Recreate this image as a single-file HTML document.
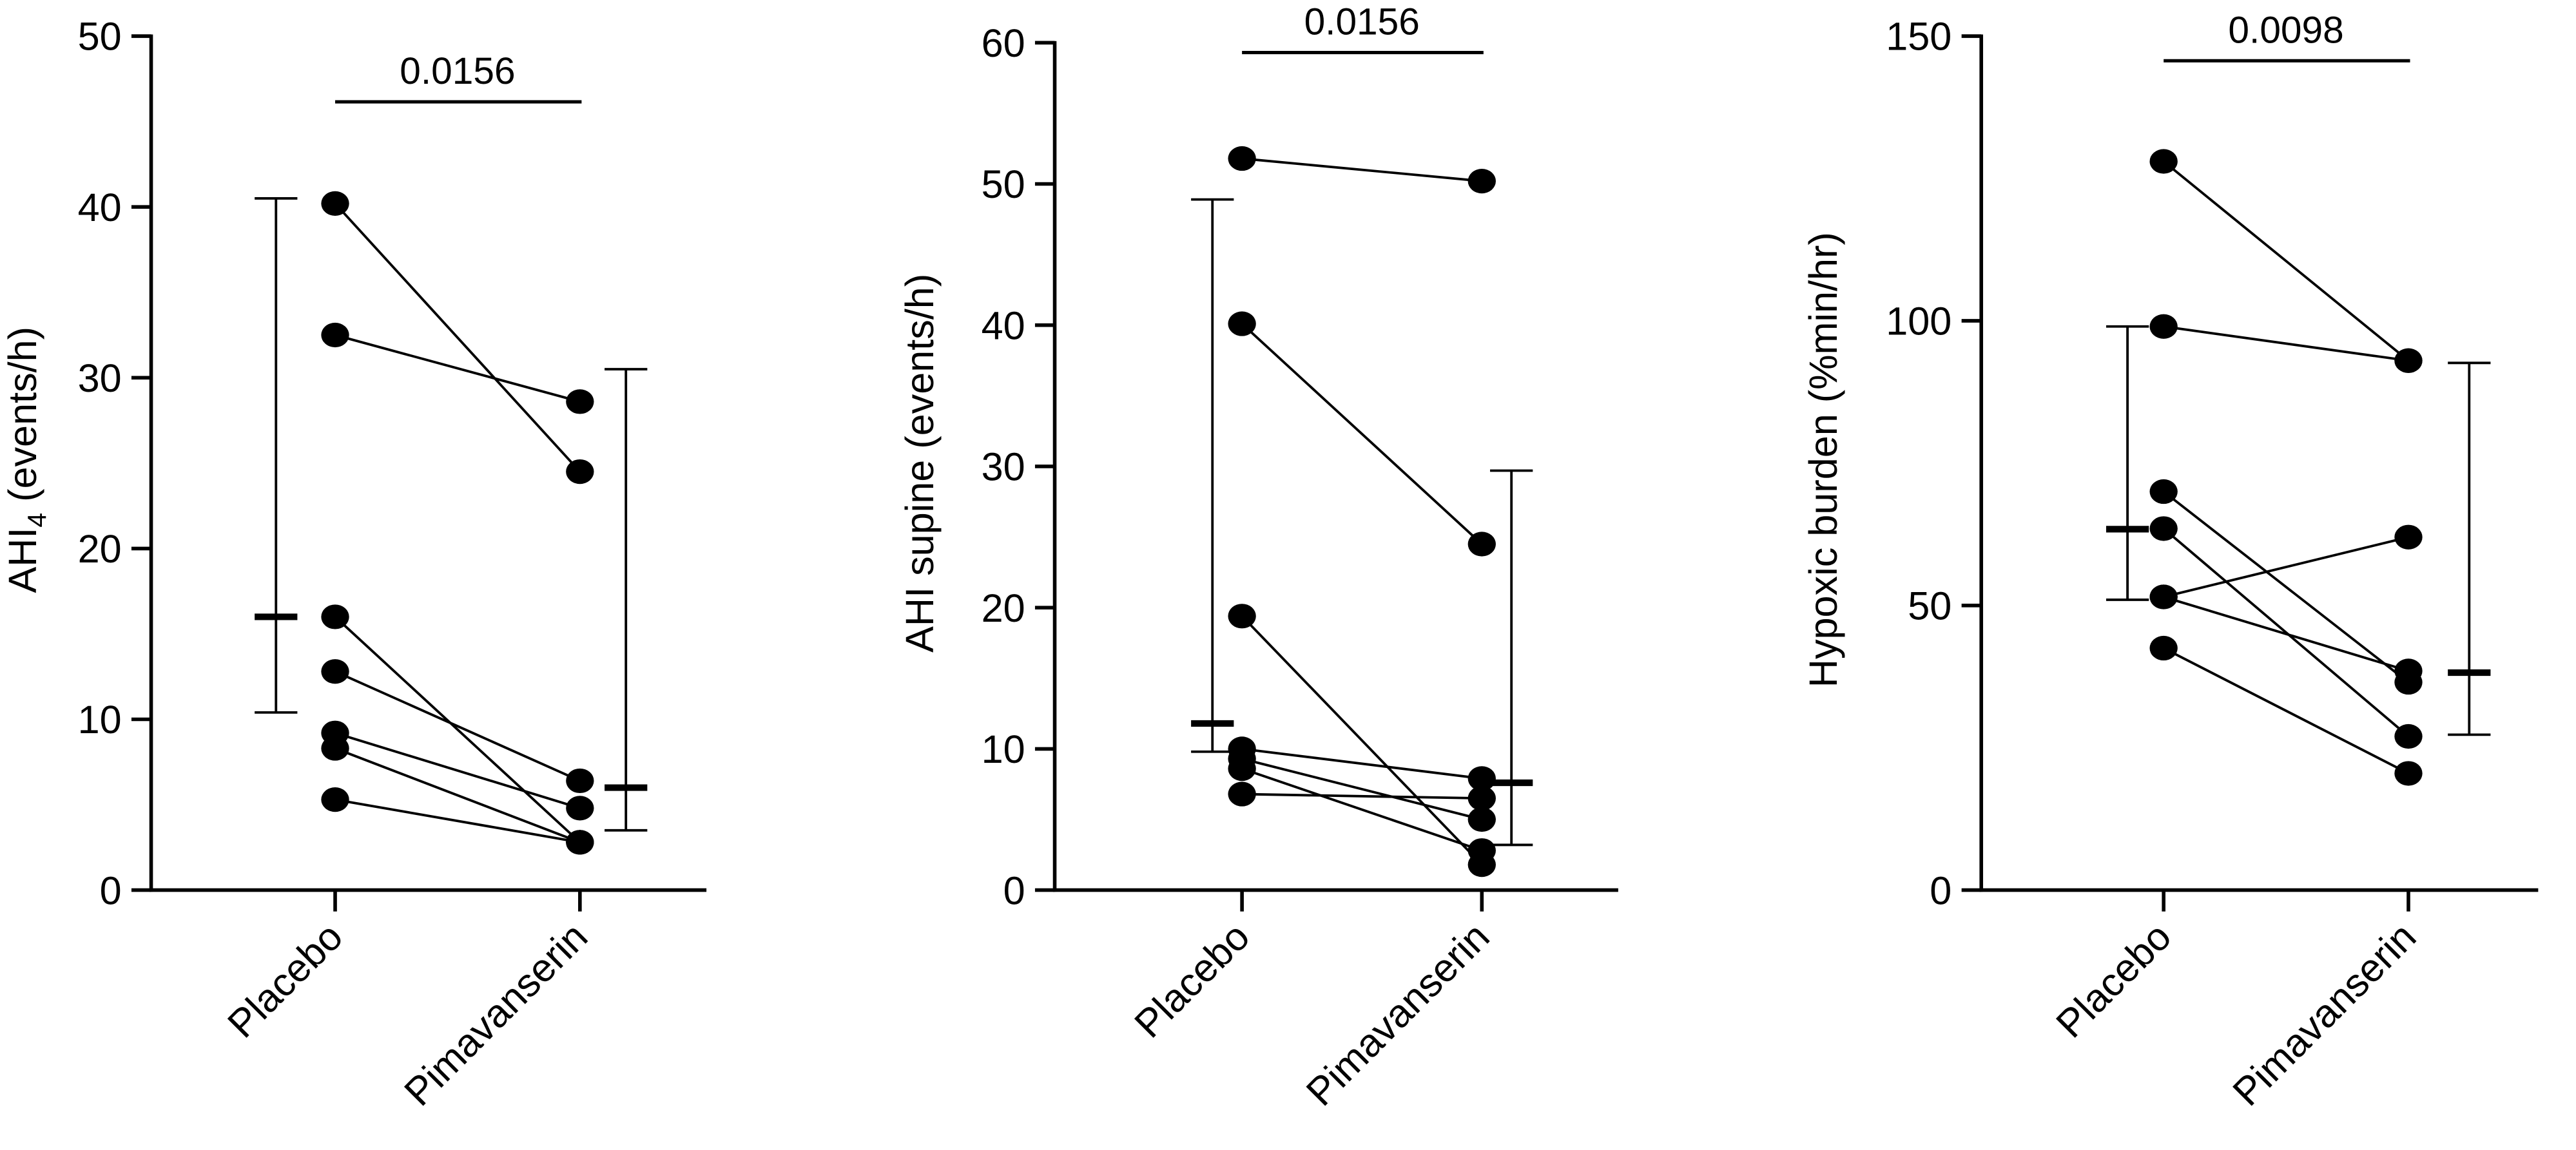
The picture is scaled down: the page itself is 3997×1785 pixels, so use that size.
<!DOCTYPE html>
<html><head><meta charset="utf-8"><style>
html,body{margin:0;padding:0;background:#fff;}
svg{display:block;font-family:"Liberation Sans",Arial,sans-serif;}
</style></head><body>
<svg id="chart" width="3997" height="1785" viewBox="0 0 1568 700.25" xmlns="http://www.w3.org/2000/svg"></svg>
<script>
const categories = ["Placebo", "Pimavanserin"];
const p1Placebo = [40.2, 32.5, 16.0, 12.8, 9.2, 8.3, 5.3];
const p1Pima = [24.5, 28.6, 2.8, 6.4, 4.8, 2.8, 2.8];
const p2Placebo = [51.8, 40.1, 19.4, 10.0, 9.3, 8.6, 6.8];
const p2Pima = [50.2, 24.5, 1.8, 7.9, 5.0, 2.8, 6.5];
const p3Placebo = [128, 99, 70, 63.5, 51.5, 51.5, 42.5];
const p3Pima = [93, 93, 36.5, 27, 62, 38.5, 20.5];
const p1Err = [[16, 10.4, 40.5], [6, 3.5, 30.5]];
const p2Err = [[11.8, 9.8, 48.9], [7.6, 3.2, 29.7]];
const p3Err = [[63.4, 51, 99], [38.2, 27.3, 92.6]];
const p1Ticks = [0, 10, 20, 30, 40, 50];
const p2Ticks = [0, 10, 20, 30, 40, 50, 60];
const p3Ticks = [0, 50, 100, 150];
const pValues = ["0.0156", "0.0156", "0.0098"];

const NS = "http://www.w3.org/2000/svg";
const svg = document.getElementById("chart");
function mk(tag, attrs, parent) {
  const e = document.createElementNS(NS, tag);
  for (const k in attrs) e.setAttribute(k, attrs[k]);
  (parent || svg).appendChild(e);
  return e;
}
const panels = [
  {ax: 92, cx: [204, 353], end: 430, top: 22, max: 50, ticks: p1Ticks, pl: p1Placebo, pm: p1Pima, err: p1Err, ebx: [168, 381], sigY: 62, title: "AHI", sub: "4", rest: " (events/h)", tx: 22},
  {ax: 642, cx: [756, 902], end: 985, top: 26, max: 60, ticks: p2Ticks, pl: p2Placebo, pm: p2Pima, err: p2Err, ebx: [738, 920], sigY: 32, title: "AHI supine (events/h)", sub: "", rest: "", tx: 568},
  {ax: 1206, cx: [1317, 1466], end: 1545, top: 22, max: 150, ticks: p3Ticks, pl: p3Placebo, pm: p3Pima, err: p3Err, ebx: [1295, 1503], sigY: 37, title: "Hypoxic burden (%min/hr)", sub: "", rest: "", tx: 1118}
];
const bottom = 542;
panels.forEach((p, pi) => {
  const g = mk("g", {});
  
  
  const y = v => bottom - (v / p.max) * (bottom - p.top);
  const yaxis = mk("line", {x1: p.ax, y1: p.top - 1, x2: p.ax, y2: bottom + 1, stroke: "#000", "stroke-width": 2.2}, g);
  
  
  p.ticks.forEach(t => {
    mk("line", {x1: p.ax - 12, y1: y(t), x2: p.ax, y2: y(t), stroke: "#000", "stroke-width": 2.2}, g);
    const tl = mk("text", {x: p.ax - 18, y: y(t) + 8.5, "text-anchor": "end", "font-size": 24}, g);
    tl.textContent = t;
    
    
  });
  const xaxis = mk("line", {x1: p.ax - 1, y1: bottom, x2: p.end, y2: bottom, stroke: "#000", "stroke-width": 2.2}, g);
  
  
  categories.forEach((c, ci) => {
    const x = p.cx[ci];
    mk("line", {x1: x, y1: bottom, x2: x, y2: bottom + 13, stroke: "#000", "stroke-width": 2.2}, g);
    const cl = mk("text", {x: 0, y: 0, "text-anchor": "end", "font-size": 24, transform: `translate(${x + 6},${bottom + 30}) rotate(-45)`}, g);
    cl.textContent = c;
    
    
  });
  const yt = mk("text", {x: 0, y: 0, "text-anchor": "middle", "font-size": 24, transform: `translate(${p.tx},${(p.top + bottom) / 2 - 2}) rotate(-90)`}, g);
  
  
  if (p.sub) {
    const a = mk("tspan", {}, yt); a.textContent = p.title;
    const b = mk("tspan", {dy: 6, "font-size": 16}, yt); b.textContent = p.sub;
    const c = mk("tspan", {dy: -6}, yt); c.textContent = p.rest;
  } else yt.textContent = p.title;
  p.pl.forEach((v, i) => {
    const l = mk("line", {x1: p.cx[0], y1: y(v), x2: p.cx[1], y2: y(p.pm[i]), stroke: "#000", "stroke-width": 1.5}, g);
    
    
  });
  [p.pl, p.pm].forEach((arr, ci) => arr.forEach(v => {
    const d = mk("ellipse", {cx: p.cx[ci], cy: y(v), rx: 8.5, ry: 7.5, fill: "#000"}, g);
    
    
  }));
  p.err.forEach((e, ci) => {
    const x = p.ebx[ci];
    const eg = mk("g", {}, g);
    
    
    mk("line", {x1: x, y1: y(e[1]), x2: x, y2: y(e[2]), stroke: "#000", "stroke-width": 1.5}, eg);
    mk("line", {x1: x - 13, y1: y(e[1]), x2: x + 13, y2: y(e[1]), stroke: "#000", "stroke-width": 1.5}, eg);
    mk("line", {x1: x - 13, y1: y(e[2]), x2: x + 13, y2: y(e[2]), stroke: "#000", "stroke-width": 1.5}, eg);
    mk("line", {x1: x - 13, y1: y(e[0]), x2: x + 13, y2: y(e[0]), stroke: "#000", "stroke-width": 4}, eg);
  });
  const sb = mk("line", {x1: p.cx[0], y1: p.sigY, x2: p.cx[1] + 1, y2: p.sigY, stroke: "#000", "stroke-width": 2}, g);
  
  
  const st = mk("text", {x: (p.cx[0] + p.cx[1]) / 2, y: p.sigY - 11, "text-anchor": "middle", "font-size": 23}, g);
  st.textContent = pValues[pi];
  
  
});
</script>
</body></html>
